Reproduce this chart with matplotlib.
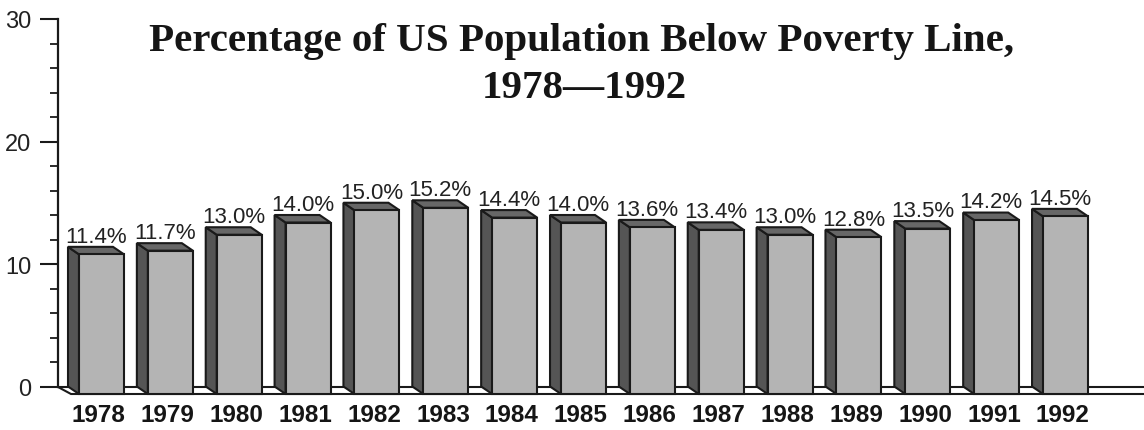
import numpy as np
import matplotlib
matplotlib.use("Agg")
import matplotlib.pyplot as plt
from matplotlib.patches import Polygon

# Poverty rate by year (percent)
years = ["1978", "1979", "1980", "1981", "1982", "1983", "1984", "1985",
         "1986", "1987", "1988", "1989", "1990", "1991", "1992"]
rates = [11.4, 11.7, 13.0, 14.0, 15.0, 15.2, 14.4, 14.0,
         13.6, 13.4, 13.0, 12.8, 13.5, 14.2, 14.5]
value_labels = ["%.1f%%" % r for r in rates]

W, H = 1144, 431
fig = plt.figure(figsize=(W / 100, H / 100), dpi=100)

# axes geometry in pixels
ax_left, ax_right = 58, 1144
y0_px, y30_px = 387.5, 20.0
px_per_unit_y = (y0_px - y30_px) / 30.0
ybot = -1.0
ax_bottom_px = y0_px - ybot * px_per_unit_y
ax = fig.add_axes([ax_left / W, (H - ax_bottom_px) / H,
                   (ax_right - ax_left) / W, (ax_bottom_px - y30_px) / H])

spacing_px = 68.86
first_center_px = 101.5 - ax_left
x = np.arange(len(years))
xmin = -first_center_px / spacing_px
xmax = xmin + (ax_right - ax_left) / spacing_px
ax.set_xlim(xmin, xmax)
ax.set_ylim(ybot, 30)

# 3d depth offsets
w = 45 / spacing_px
dx = 11 / spacing_px
dy = 7.5 / px_per_unit_y

front_col = "#b4b4b4"
side_col = "#555555"
top_col = "#676767"
edge = "#1a1a1a"
lw = 1.5

# floor band
floor = Polygon([(xmin, 0), (xmax + 1, 0), (xmax + 1, -dy), (xmin + dx * 1.2, -dy)],
                closed=True, facecolor="white", edgecolor=edge, lw=lw, zorder=1,
                clip_on=False)
ax.add_patch(floor)

# front faces
ax.bar(x, rates, bottom=-dy, width=w, color=front_col, edgecolor=edge,
       linewidth=lw, zorder=3)

for xi, v in zip(x, rates):
    l, r = xi - w / 2, xi + w / 2
    side = Polygon([(l, -dy), (l, v - dy), (l - dx, v), (l - dx, 0)],
                   closed=True, facecolor=side_col, edgecolor=edge, lw=lw, zorder=2)
    top = Polygon([(l, v - dy), (r, v - dy), (r - dx, v), (l - dx, v)],
                  closed=True, facecolor=top_col, edgecolor=edge, lw=lw, zorder=2)
    ax.add_patch(side)
    ax.add_patch(top)

for xi, v, lab in zip(x, rates, value_labels):
    ax.text(xi - dx / 2, v + 0.42, lab, ha="center", va="baseline",
            fontsize=16, color="#222222", family="Liberation Sans")

# axes styling
for s in ["top", "right", "bottom"]:
    ax.spines[s].set_visible(False)
ax.spines["left"].set_bounds(0, 30)
ax.spines["left"].set_linewidth(1.6)
ax.spines["left"].set_color(edge)
ax.set_yticks([0, 10, 20, 30])
ax.set_yticks(np.arange(0, 31, 2), minor=True)
ax.tick_params(axis="y", which="major", length=13, width=1.5, color=edge,
               labelsize=17, pad=6, labelcolor="#222222")
ax.tick_params(axis="y", which="minor", length=6, width=1.3, color=edge)
for t in ax.get_yticklabels():
    t.set_family("Liberation Sans")

ax.set_xticks(x - dx / 4)
ax.set_xticklabels(years, fontsize=17.5, fontweight="bold", family="Liberation Sans",
                   color="#151515")
ax.tick_params(axis="x", length=0, pad=3.3)

fig.text(0.508, (H - 51) / H, "Percentage of US Population Below Poverty Line,",
         ha="center", va="baseline", fontsize=29.5, fontweight="bold",
         family="Liberation Serif", color="#151515")
fig.text(0.511, (H - 98) / H, "1978\u20141992",
         ha="center", va="baseline", fontsize=29.5, fontweight="bold",
         family="Liberation Serif", color="#151515")

fig.savefig("out.png", dpi=100)
